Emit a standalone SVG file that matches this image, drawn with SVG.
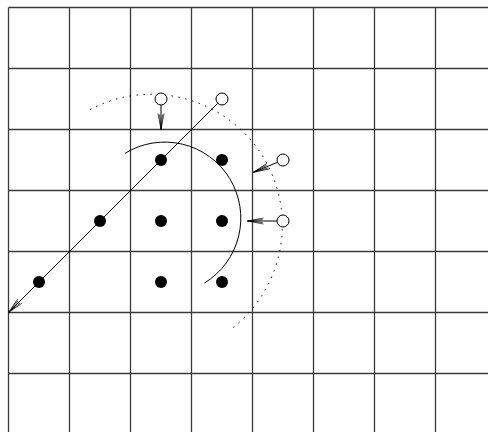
<svg xmlns="http://www.w3.org/2000/svg" width="488" height="432" viewBox="0 0 488 432">
<style>
.grid line{stroke:#3a3a3a;stroke-width:1.3}
.conn{stroke:#000;stroke-width:1;fill:none}
.dot{fill:#000}
.open{fill:#fff;stroke:#000;stroke-width:1}
</style>
<defs>
<marker id="ah" markerUnits="userSpaceOnUse" markerWidth="18" markerHeight="10" refX="17" refY="5" orient="auto" viewBox="0 0 18 10">
<path d="M1,2 L17,5 L1,8 M2,3.5 L17,5 L2,6.5" fill="none" stroke="#000" stroke-width="0.7"/>
</marker>
</defs>
<rect width="488" height="432" fill="#fff"/>
<g class="grid" id="grid">
<line x1="8.5" y1="7.5" x2="8.5" y2="432"/>
<line x1="69.5" y1="7.5" x2="69.5" y2="432"/>
<line x1="130.5" y1="7.5" x2="130.5" y2="432"/>
<line x1="191.5" y1="7.5" x2="191.5" y2="432"/>
<line x1="252.5" y1="7.5" x2="252.5" y2="432"/>
<line x1="313.5" y1="7.5" x2="313.5" y2="432"/>
<line x1="374.5" y1="7.5" x2="374.5" y2="432"/>
<line x1="435.5" y1="7.5" x2="435.5" y2="432"/>
<line x1="8.5" y1="7.5" x2="488" y2="7.5"/>
<line x1="8.5" y1="68.5" x2="488" y2="68.5"/>
<line x1="8.5" y1="129.5" x2="488" y2="129.5"/>
<line x1="8.5" y1="190.5" x2="488" y2="190.5"/>
<line x1="8.5" y1="251.5" x2="488" y2="251.5"/>
<line x1="8.5" y1="312.5" x2="488" y2="312.5"/>
<line x1="8.5" y1="373.5" x2="488" y2="373.5"/>
</g>
<g id="arcs">
<path class="conn" d="M125,153.3 A76,76 0 0 1 204.5,283" />
<path class="conn" d="M90,109.5 A131,131 0 0 1 230,330" stroke-dasharray="1.5 5.5" stroke-width="1.4"/>
</g>
<g id="connectors">
<line class="conn" x1="217.8" y1="103.2" x2="8.5" y2="312.5" marker-end="url(#ah)"/>
<line class="conn" x1="161" y1="105" x2="161" y2="129.5" marker-end="url(#ah)"/>
<line class="conn" x1="277.5" y1="162.3" x2="253.3" y2="172.3" marker-end="url(#ah)"/>
<line class="conn" x1="277" y1="221" x2="247.5" y2="221" marker-end="url(#ah)"/>
</g>
<g id="dots">
<circle id="d1" class="dot" cx="161" cy="160" r="6"/>
<circle id="d2" class="dot" cx="222" cy="160" r="6"/>
<circle id="d3" class="dot" cx="100" cy="221" r="6"/>
<circle id="d4" class="dot" cx="161" cy="221" r="6"/>
<circle id="d5" class="dot" cx="222" cy="221" r="6"/>
<circle id="d6" class="dot" cx="39" cy="282" r="6"/>
<circle id="d7" class="dot" cx="161" cy="282" r="6"/>
<circle id="d8" class="dot" cx="222" cy="282" r="6"/>
</g>
<g id="open-circles">
<circle id="o1" class="open" cx="161" cy="99" r="6"/>
<circle id="o2" class="open" cx="222" cy="99" r="6"/>
<circle id="o3" class="open" cx="283" cy="160" r="6"/>
<circle id="o4" class="open" cx="283" cy="221" r="6"/>
</g>
</svg>
